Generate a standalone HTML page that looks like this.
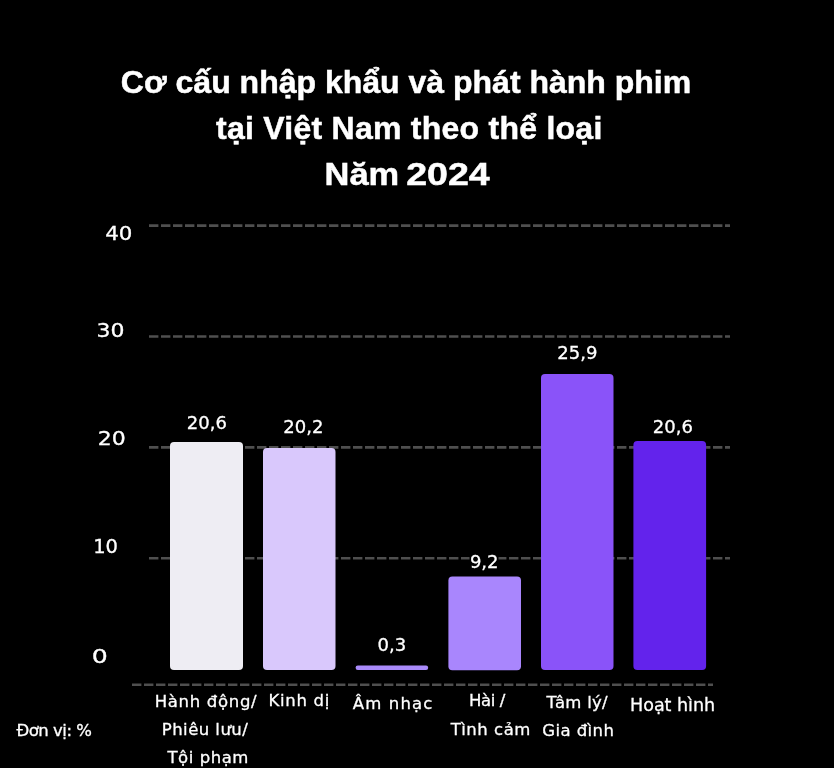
<!DOCTYPE html>
<html lang="vi">
<head>
<meta charset="utf-8">
<title>Cơ cấu nhập khẩu và phát hành phim tại Việt Nam theo thể loại Năm 2024</title>
<style>
  html, body { margin: 0; padding: 0; background: #000; }
  body { width: 834px; height: 768px; overflow: hidden; position: relative; }
  svg { position: absolute; left: 0; top: 0; display: block; will-change: transform; }
  .title { font-family: "Liberation Sans", "Noto Sans CJK SC", sans-serif; font-weight: bold; font-size: 32px; fill: #fff; stroke: #fff; stroke-width: 0.5px; }
  .lab { font-family: "DejaVu Sans", "Liberation Sans", sans-serif; fill: #fff; stroke: #fff; stroke-width: 0.3px; }
  .ylab { font-size: 19.5px; }
  .val { font-size: 18px; }
  .xlab { font-size: 16.5px; }
</style>
</head>
<body>
<svg width="834" height="768" viewBox="0 0 834 768">
  <rect x="0" y="0" width="834" height="768" fill="#000"/>

  <!-- grid -->
  <g stroke="#4f4f4f" stroke-width="2.6" stroke-dasharray="9.4 2.6" fill="none">
    <line x1="149" y1="225.6" x2="730" y2="225.6"/>
    <line x1="149" y1="336.5" x2="730" y2="336.5"/>
    <line x1="149" y1="447.4" x2="730" y2="447.4"/>
    <line x1="149" y1="558.3" x2="730" y2="558.3"/>
    <line x1="132" y1="684.7" x2="713" y2="684.7"/>
  </g>

  <!-- title -->
  <text class="title" x="406" y="93" text-anchor="middle">Cơ cấu nhập khẩu và phát hành phim</text>
  <text class="title" x="409.3" y="139" text-anchor="middle" letter-spacing="0.25">tại Việt Nam theo thể loại</text>
  <text class="title" transform="translate(361.9 185) scale(1.076 1)" text-anchor="middle">Năm</text>
  <text class="title" transform="translate(447.9 185) scale(1.172 1)" text-anchor="middle">2024</text>

  <!-- y axis labels -->
  <g class="lab ylab" text-anchor="middle">
    <text transform="translate(118.8 240.4) scale(1.096 1)">40</text>
    <text transform="translate(110.6 337.2) scale(1.127 1)">30</text>
    <text transform="translate(111.8 445.2) scale(1.127 1)">20</text>
    <text transform="translate(105.6 553) scale(1 1)">10</text>
    <text transform="translate(99.7 663) scale(1.29 1)">0</text>
  </g>

  <!-- bars -->
  <rect x="170" y="442" width="73" height="228" rx="4" fill="#eeedf3"/>
  <rect x="263" y="448" width="72.5" height="222" rx="4" fill="#d9c8fc"/>
  <rect x="355.6" y="665.6" width="72.6" height="4.4" rx="2.2" fill="#a98afa"/>
  <rect x="448.4" y="576.6" width="72.6" height="93.6" rx="4" fill="#a986fd"/>
  <rect x="541" y="374" width="72.5" height="296" rx="4" fill="#8a53f9"/>
  <rect x="633.4" y="441" width="72.7" height="229" rx="4" fill="#6323ec"/>

  <!-- value labels -->
  <rect x="469.5" y="552" width="29" height="19" fill="#000"/>
  <g class="lab val" text-anchor="middle">
    <text x="206.8" y="429.3">20,6</text>
    <text x="303.4" y="433">20,2</text>
    <text x="391.8" y="651.2">0,3</text>
    <text x="484.2" y="568.2">9,2</text>
    <text x="577.3" y="359">25,9</text>
    <text x="672.8" y="433">20,6</text>
  </g>

  <!-- x axis labels -->
  <g class="lab xlab" text-anchor="middle">
    <text x="206" y="706.8" letter-spacing="0.7">Hành động/</text>
    <text x="205" y="734.9" letter-spacing="0.45">Phiêu lưu/</text>
    <text x="208.2" y="762.8" letter-spacing="0.54">Tội phạm</text>
    <text x="299.2" y="706.4" letter-spacing="0.7">Kinh dị</text>
    <text x="393.2" y="708.8" letter-spacing="1.15">Âm nhạc</text>
    <text x="487" y="706.4" letter-spacing="-0.37">Hài /</text>
    <text x="490.8" y="734.7" letter-spacing="0.53">Tình cảm</text>
    <text x="577.2" y="708.3" letter-spacing="0.28">Tâm lý/</text>
    <text x="578.3" y="736.4" letter-spacing="0.4">Gia đình</text>
    <text x="672.6" y="710.8" style="font-size:17.5px">Hoạt hình</text>
    <text x="53.9" y="736.4" letter-spacing="-0.49">Đơn vị: %</text>
  </g>
</svg>
</body>
</html>
